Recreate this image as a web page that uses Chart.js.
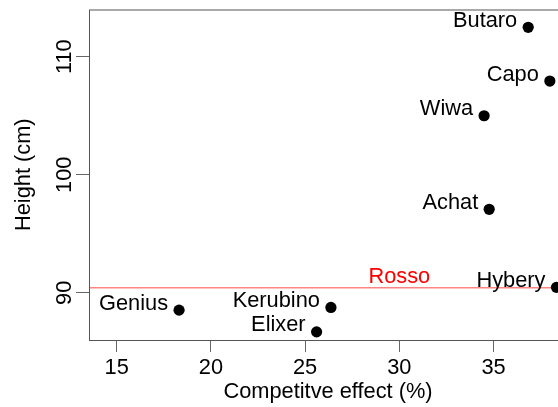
<!DOCTYPE html>
<html>
<head>
<meta charset="utf-8">
<script src="https://cdn.jsdelivr.net/npm/chart.js@4.4.1/dist/chart.umd.min.js"></script>
<style>
  html, body { margin: 0; padding: 0; background: #fff; overflow: hidden; }
  #wrap { position: relative; width: 600px; height: 407px; }
</style>
</head>
<body>
<div id="wrap"><canvas id="chart"></canvas></div>
<script>
// data
const cultivars = ['Butaro', 'Capo', 'Wiwa', 'Achat', 'Hybery', 'Genius', 'Kerubino', 'Elixer'];
const competitiveEffect = [36.84, 37.99, 34.50, 34.77, 38.34, 18.31, 26.37, 25.61];
const heightCm = [112.49, 107.94, 105.0, 97.07, 90.46, 88.53, 88.76, 86.69];
const xTickValues = [15, 20, 25, 30, 35];
const yTickValues = [90, 100, 110];
const rossoLabel = 'Rosso';
const rossoHeight = 90.42;
const rossoLabelX = 30;

const FONT = '"Liberation Sans", Arial, Helvetica, sans-serif';
const FONT_SIZE = 21.8;
Chart.defaults.font.family = FONT;
Chart.defaults.font.size = FONT_SIZE;
Chart.defaults.color = '#000';

// box, rosso line, point labels, rotated y tick labels
const extrasPlugin = {
    id: 'extras',
    beforeDatasetsDraw(chart) {
        const { ctx, chartArea: a, scales: { y } } = chart;
        ctx.save();
        // reference line
        const ry = y.getPixelForValue(rossoHeight);
        ctx.strokeStyle = '#ff8585';
        ctx.lineWidth = 1.5;
        ctx.beginPath();
        ctx.moveTo(a.left, ry);
        ctx.lineTo(a.right, ry);
        ctx.stroke();
        ctx.restore();
    },
    afterDatasetsDraw(chart) {
        const { ctx, chartArea: a, scales: { x, y } } = chart;
        ctx.save();
        ctx.strokeStyle = '#555';
        ctx.lineWidth = 1;
        ctx.strokeRect(a.left + 0.5, a.top + 0.5, a.right - a.left, a.bottom - a.top);

        ctx.font = FONT_SIZE + 'px ' + FONT;
        // Rosso label
        ctx.fillStyle = '#ff0000';
        ctx.textAlign = 'center';
        ctx.textBaseline = 'alphabetic';
        ctx.fillText(rossoLabel, x.getPixelForValue(rossoLabelX), y.getPixelForValue(rossoHeight) - 5);

        // cultivar labels
        ctx.fillStyle = '#000';
        ctx.textAlign = 'right';
        cultivars.forEach((name, i) => {
            const px = x.getPixelForValue(competitiveEffect[i]);
            const py = y.getPixelForValue(heightCm[i]);
            ctx.fillText(name, px - 11, py - 0.5);
        });

        // y tick labels, rotated like R
        ctx.textAlign = 'center';
        ctx.textBaseline = 'alphabetic';
        yTickValues.forEach(v => {
            const py = y.getPixelForValue(v);
            ctx.save();
            ctx.translate(71, py);
            ctx.rotate(-Math.PI / 2);
            ctx.fillText(String(v), 0, 0);
            ctx.restore();
        });
        ctx.restore();
    }
};

new Chart(document.getElementById('chart'), {
    type: 'scatter',
    data: {
        datasets: [{
            data: competitiveEffect.map((v, i) => ({ x: v, y: heightCm[i] })),
            backgroundColor: '#000',
            borderColor: '#000',
            borderWidth: 0,
            pointRadius: 5.6,
            pointHoverRadius: 5.6
        }]
    },
    options: {
        responsive: true,
        maintainAspectRatio: false,
        animation: false,
        layout: { padding: { left: 0, top: 9.5, right: 33, bottom: 0 } },
        plugins: {
            legend: { display: false },
            tooltip: { enabled: false }
        },
        scales: {
            x: {
                type: 'linear',
                min: 13.53,
                max: 38.9,
                afterBuildTicks: (s) => { s.ticks = xTickValues.map(v => ({ value: v })); },
                afterFit: (s) => { s.height = 67; },
                border: { display: false },
                grid: { drawOnChartArea: false, drawTicks: true, tickLength: 12, tickColor: '#666', color: '#666' },
                ticks: { padding: 3, color: '#000', maxRotation: 0 },
                title: {
                    display: true,
                    text: 'Competitve effect (%)',
                    color: '#000',
                    padding: { top: 0, bottom: 1.5 }
                }
            },
            y: {
                type: 'linear',
                min: 86,
                max: 114,
                afterBuildTicks: (s) => { s.ticks = yTickValues.map(v => ({ value: v })); },
                afterFit: (s) => { s.width = 89; },
                border: { display: false },
                grid: { drawOnChartArea: false, drawTicks: true, tickLength: 13, tickColor: '#666', color: '#666' },
                ticks: { display: false },
                title: {
                    display: true,
                    text: 'Height (cm)',
                    color: '#000',
                    padding: { top: 11, bottom: 0 }
                }
            }
        }
    },
    plugins: [extrasPlugin]
});
</script>
</body>
</html>
